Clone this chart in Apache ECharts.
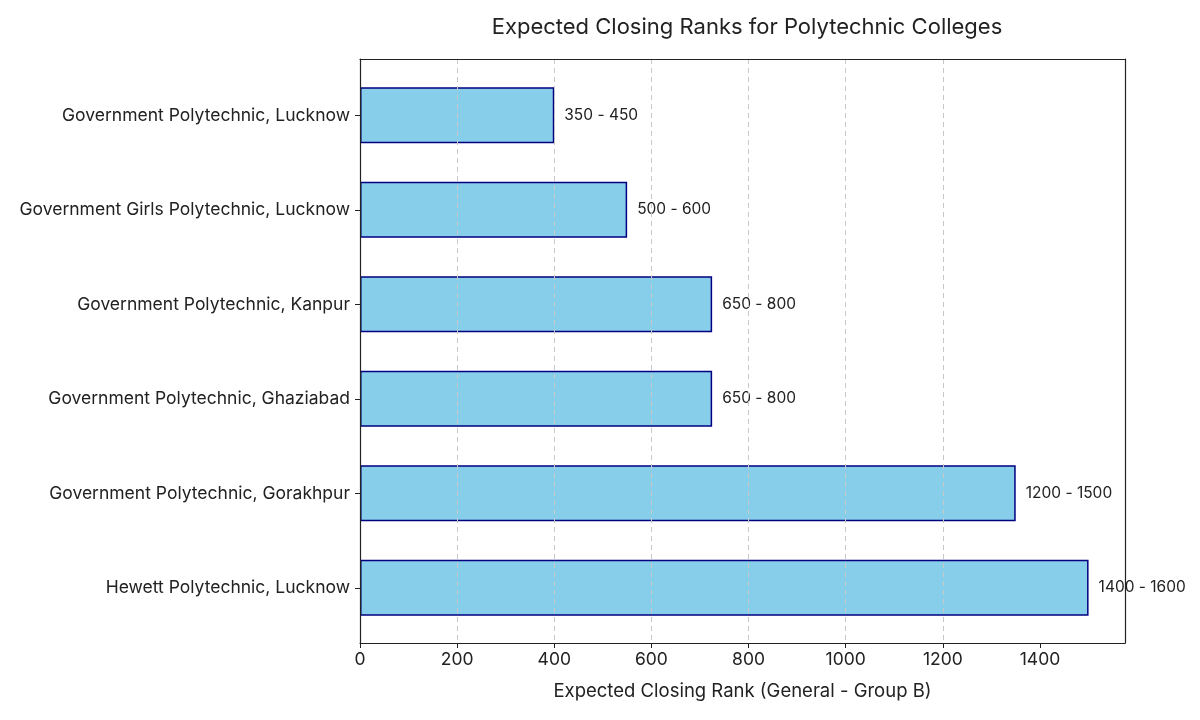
<!DOCTYPE html>
<html><head><meta charset="utf-8">
<script src="https://cdn.jsdelivr.net/npm/echarts@6/dist/echarts.min.js"></script>
<style>html,body{margin:0;padding:0;background:#fff}#c{width:1200px;height:720px}</style>
</head><body><div id="c"></div>
<script>
const categories = [
  "Government Polytechnic, Lucknow",
  "Government Girls Polytechnic, Lucknow",
  "Government Polytechnic, Kanpur",
  "Government Polytechnic, Ghaziabad",
  "Government Polytechnic, Gorakhpur",
  "Hewett Polytechnic, Lucknow"
];
const values = [400, 550, 725, 725, 1350, 1500];
const rangeLabels = ["350 - 450", "500 - 600", "650 - 800", "650 - 800", "1200 - 1500", "1400 - 1600"];
const xMax = 1575;
const xTicks = [0, 200, 400, 600, 800, 1000, 1200, 1400];

const font = "Inter, 'Open Sans', sans-serif";
const frame = {show: true, onZero: false, lineStyle: {color: '#222', width: 1.2}};
const chart = echarts.init(document.getElementById('c'), null, {renderer: 'canvas'});
chart.setOption({
  animation: false,
  title: {
    text: "Expected Closing Ranks for Polytechnic Colleges",
    left: 742, top: 11, textAlign: 'center',
    textStyle: {fontFamily: font, fontSize: 22, fontWeight: 'normal', color: '#222'}
  },
  grid: [
    {left: 360, right: 75, top: 59, bottom: 77},
    {left: 360, right: 75, top: 68, bottom: 85}
  ],
  xAxis: [
    {gridIndex: 0, type: 'value', min: 0, max: xMax, interval: 200, z: 5, position: 'bottom',
     name: "Expected Closing Rank (General - Group B)", nameLocation: 'middle', nameGap: 39,
     nameTextStyle: {fontFamily: font, fontSize: 18.5, color: '#222'},
     axisLine: frame,
     axisTick: {show: true, length: 5, lineStyle: {color: '#222'}, customValues: xTicks},
     axisLabel: {fontFamily: font, fontSize: 17.5, color: '#222', margin: 8, customValues: xTicks,
       formatter: v => String(v)},
     splitLine: {show: true, showMinLine: false, showMaxLine: false,
       lineStyle: {type: [5, 4], color: '#c8c8c8', width: 1}}
    },
    {gridIndex: 0, type: 'value', min: 0, max: xMax, position: 'top', z: 6,
     axisLine: frame, axisTick: {show: false}, axisLabel: {show: false}, splitLine: {show: false}},
    {gridIndex: 1, type: 'value', min: 0, max: xMax, show: false, splitLine: {show: false}}
  ],
  yAxis: [
    {gridIndex: 0, type: 'value', min: 0, max: 1, position: 'left', z: 6,
     axisLine: frame, axisTick: {show: false}, axisLabel: {show: false}, splitLine: {show: false}},
    {gridIndex: 0, type: 'value', min: 0, max: 1, position: 'right', z: 6,
     axisLine: frame, axisTick: {show: false}, axisLabel: {show: false}, splitLine: {show: false}},
    {gridIndex: 1, type: 'category', data: categories, inverse: true,
     axisLine: {show: false},
     axisTick: {show: true, alignWithLabel: true, length: 5, lineStyle: {color: '#222'}},
     axisLabel: {fontFamily: font, fontSize: 17.5, color: '#222', margin: 10}
    }
  ],
  series: [{
    type: 'bar', xAxisIndex: 2, yAxisIndex: 2, z: -1,
    data: values, barWidth: 56,
    itemStyle: {color: '#87CEEB', borderColor: '#000080', borderWidth: 1.5},
    label: {show: true, position: 'right', distance: 10,
      fontFamily: font, fontSize: 15.5, color: '#222',
      formatter: p => rangeLabels[p.dataIndex]}
  }]
});
</script></body></html>
